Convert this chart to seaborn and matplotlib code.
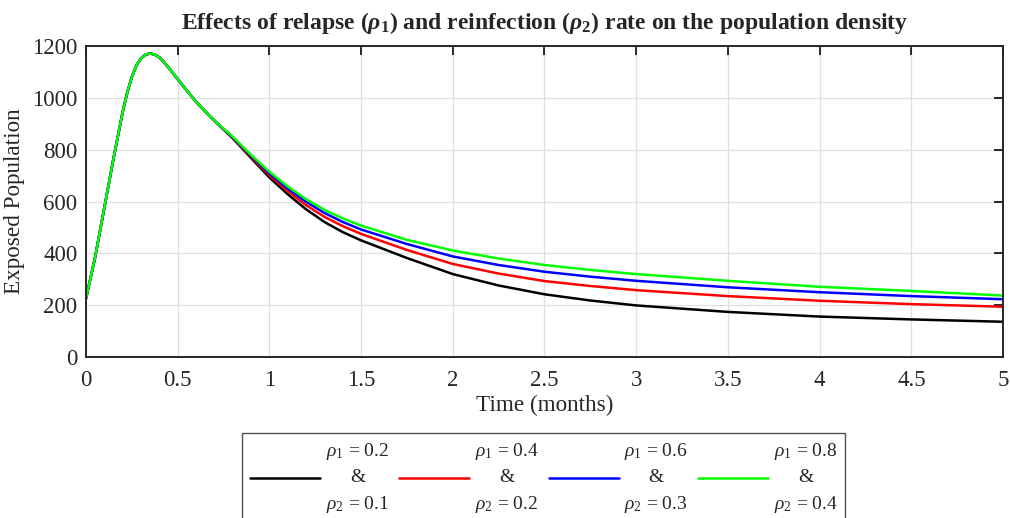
import numpy as np
import pandas as pd
import seaborn as sns
import matplotlib.pyplot as plt

# shared rise and peak (all four curves overlap here)
t_rise = [0.0, 0.05, 0.10, 0.15, 0.20, 0.225, 0.25, 0.275, 0.30, 0.325, 0.35,
          0.375, 0.40, 0.425, 0.45, 0.50, 0.55, 0.60, 0.65, 0.70]
e_rise = [225, 385, 575, 765, 945, 1020, 1080, 1125, 1152, 1167, 1171,
          1167, 1156, 1138, 1117, 1072, 1028, 985, 948, 912]

# after the peak the curves split
t_tail = [0.8, 0.9, 1.0, 1.1, 1.2, 1.3, 1.4, 1.5, 1.75, 2.0, 2.25, 2.5, 2.75,
          3.0, 3.5, 4.0, 4.5, 5.0]
black_tail = [844, 768, 693, 628, 570, 521, 482, 450, 382, 320, 276, 242, 218,
              199, 174, 156, 145, 136]
red_tail = [846, 773, 702, 640, 586, 541, 505, 475, 413, 359, 322, 293, 274,
            258, 235, 217, 204, 194]
blue_tail = [848, 777, 709, 650, 599, 556, 521, 492, 436, 388, 355, 329, 310,
             294, 269, 250, 235, 223]
green_tail = [850, 780, 715, 658, 609, 568, 535, 507, 452, 411, 380, 355, 336,
              320, 294, 271, 255, 237]

labels = ['$\\rho_1$ = 0.2\n&\n$\\rho_2$ = 0.1',
          '$\\rho_1$ = 0.4\n&\n$\\rho_2$ = 0.2',
          '$\\rho_1$ = 0.6\n&\n$\\rho_2$ = 0.3',
          '$\\rho_1$ = 0.8\n&\n$\\rho_2$ = 0.4']
colors = ['#000000', '#ff0000', '#0000ff', '#00ff00']
tails = [black_tail, red_tail, blue_tail, green_tail]

sns.set_style('white')
plt.rcParams['font.family'] = ['Liberation Serif', 'DejaVu Serif']
plt.rcParams['mathtext.fontset'] = 'custom'
plt.rcParams['mathtext.rm'] = 'Liberation Serif'
plt.rcParams['mathtext.it'] = 'Liberation Serif:italic'
plt.rcParams['mathtext.bf'] = 'Liberation Serif:bold'
plt.rcParams['mathtext.bfit'] = 'Liberation Serif:bold:italic'

fig = plt.figure(figsize=(10.1, 5.18), dpi=100)
ax = fig.add_axes([0.0851, 0.3108, 0.908, 0.6004])

t = t_rise + t_tail
for lab, col, tail in zip(labels, colors, tails):
    df = pd.DataFrame({'t': t, 'E': e_rise + tail})
    sns.lineplot(data=df, x='t', y='E', color=col, lw=1.8, label=lab, ax=ax, legend=False)

ax.set_xlim(0, 5)
ax.set_ylim(0, 1200)
ax.set_xticks(np.arange(0, 5.01, 0.5))
ax.set_xticklabels(['0', '0.5', '1', '1.5', '2', '2.5', '3', '3.5', '4', '4.5', '5'])
ax.set_yticks(np.arange(0, 1201, 200))
ax.grid(True, color='#dfdfdf', lw=0.9)
for s in ax.spines.values():
    s.set_visible(True)
    s.set_color('#262626')
    s.set_linewidth(1.4)
ax.tick_params(direction='in', length=6.5, width=1.4, color='#262626',
               top=True, right=True, labelsize=16.5, labelcolor='#262626')
ax.tick_params(axis='x', pad=9)
ax.tick_params(axis='y', pad=6)

ax.set_xlabel('Time (months)', fontsize=16.7, color='#262626', labelpad=3)
ax.set_ylabel('Exposed Population', fontsize=16.7, color='#262626', labelpad=5)
ax.set_title('Effects of relapse ($\\mathbfit{\\rho}_{\\mathbf{1}}$) and reinfection '
             '($\\mathbfit{\\rho}_{\\mathbf{2}}$) rate on the population density',
             fontsize=17, fontweight='bold', pad=12)

handles, labs = ax.get_legend_handles_labels()
leg = fig.legend(handles, labs, loc='upper center', bbox_to_anchor=(0.5385, 0.1641),
                 ncol=4, fontsize=14, frameon=True, fancybox=False, edgecolor='#262626',
                 handlelength=3.6, handletextpad=0.3, columnspacing=0.5,
                 borderpad=0.4, borderaxespad=0)
leg.get_frame().set_linewidth(1.0)
for txt in leg.get_texts():
    txt.set_multialignment('center')
    txt.set_linespacing(1.55)

fig.savefig('out.png', dpi=100)
